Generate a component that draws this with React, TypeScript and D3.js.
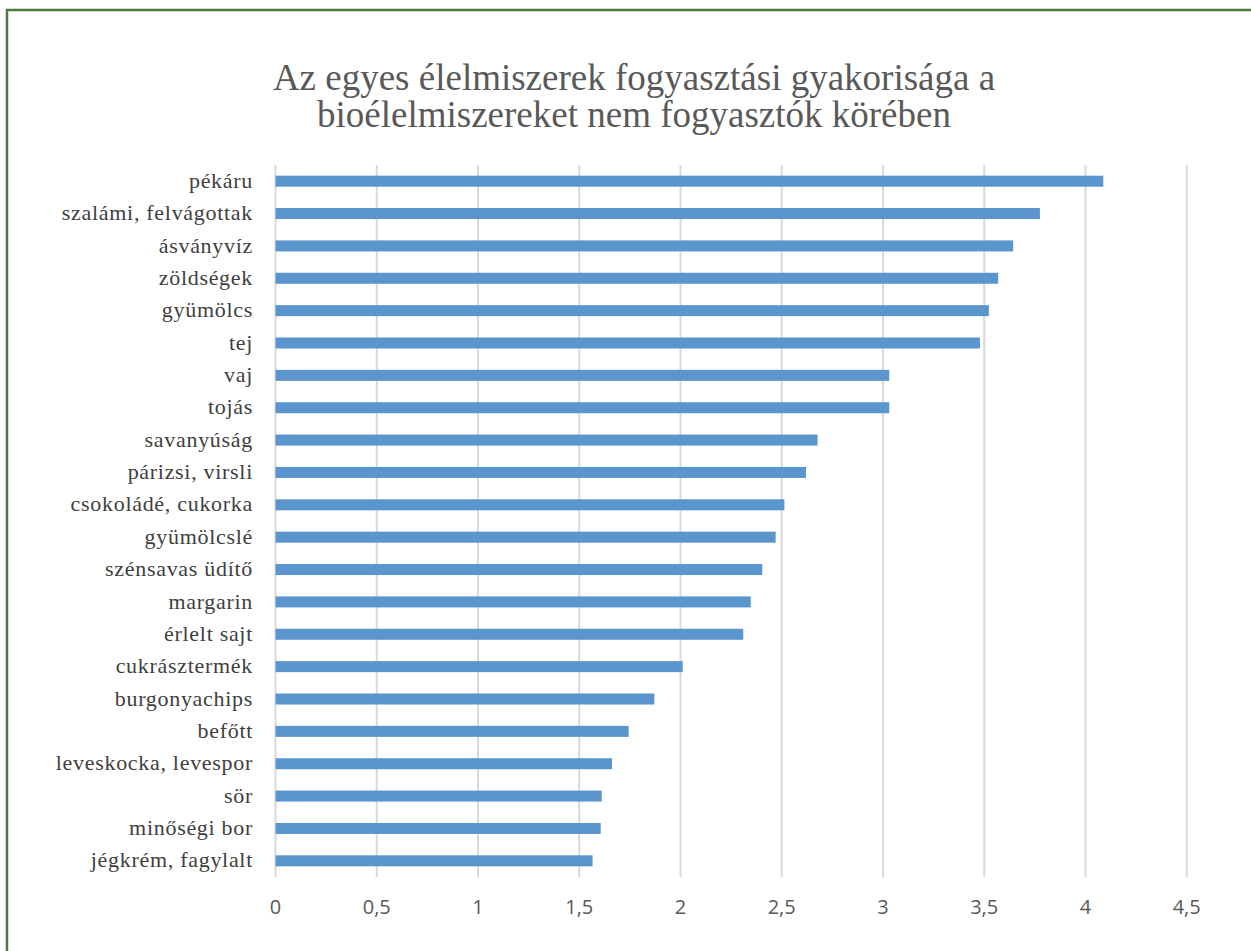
import React from "react";
import * as d3 from "d3";

const categories: string[] = [
  "pékáru",
  "szalámi, felvágottak",
  "ásványvíz",
  "zöldségek",
  "gyümölcs",
  "tej",
  "vaj",
  "tojás",
  "savanyúság",
  "párizsi, virsli",
  "csokoládé, cukorka",
  "gyümölcslé",
  "szénsavas üdítő",
  "margarin",
  "érlelt sajt",
  "cukrásztermék",
  "burgonyachips",
  "befőtt",
  "leveskocka, levespor",
  "sör",
  "minőségi bor",
  "jégkrém, fagylalt",
];

const values: number[] = [
  4.088, 3.775, 3.643, 3.569, 3.523, 3.479, 3.031, 3.031, 2.677, 2.62, 2.513,
  2.47, 2.404, 2.347, 2.31, 2.011, 1.871, 1.744, 1.662, 1.611, 1.606, 1.566,
];

const ticks: number[] = [0, 0.5, 1, 1.5, 2, 2.5, 3, 3.5, 4, 4.5];
const titleLines: string[] = [
  "Az egyes élelmiszerek fogyasztási gyakorisága a",
  "bioélelmiszereket nem fogyasztók körében",
];

export default function App() {
  const W = 1251;
  const H = 951;
  const x = d3.scaleLinear().domain([0, 4.5]).range([275.5, 1186.7]);
  const y = d3
    .scaleBand<string>()
    .domain(categories)
    .range([165, 877])
    .paddingInner(0.66)
    .paddingOuter(0.33);
  const fmt = (v: number) => String(v).replace(".", ",");
  return (
    <svg
      width={W}
      height={H}
      style={{ position: "absolute", left: 0, top: 0, background: "#fff" }}
    >
      <rect x={0} y={0} width={W} height={H} fill="#fff" />
      <rect
        x={7}
        y={10}
        width={W + 20}
        height={H + 20}
        fill="none"
        stroke="#4d7a3f"
        strokeWidth={2.5}
      />
      {titleLines.map((t, i) => (
        <text
          key={i}
          x={634}
          y={90 + i * 37}
          textAnchor="middle"
          fontFamily="'Liberation Serif', 'Times New Roman', serif"
          fontSize={37}
          fill="#595959"
        >
          {t}
        </text>
      ))}
      {ticks.map((t) => (
        <line
          key={"g" + t}
          x1={x(t)}
          x2={x(t)}
          y1={165}
          y2={877}
          stroke="#d9d9d9"
          strokeWidth={2}
        />
      ))}
      {categories.map((c, i) => (
        <rect
          key={"b" + c}
          x={x(0)}
          y={y(c)!}
          width={x(values[i]) - x(0)}
          height={y.bandwidth()}
          fill="#5b95cd"
        />
      ))}
      {categories.map((c) => (
        <text
          key={"l" + c}
          x={253}
          y={y(c)! + y.bandwidth() / 2}
          dy="0.3em"
          textAnchor="end"
          fontFamily="'Liberation Serif', 'Times New Roman', serif"
          fontSize={22}
          letterSpacing={0.7}
          fill="#404040"
        >
          {c}
        </text>
      ))}
      {ticks.map((t) => (
        <text
          key={"t" + t}
          x={x(t)}
          y={914}
          textAnchor="middle"
          fontFamily="'Open Sans', 'Liberation Sans', sans-serif"
          fontSize={20}
          fill="#595959"
        >
          {fmt(t)}
        </text>
      ))}
    </svg>
  );
}
